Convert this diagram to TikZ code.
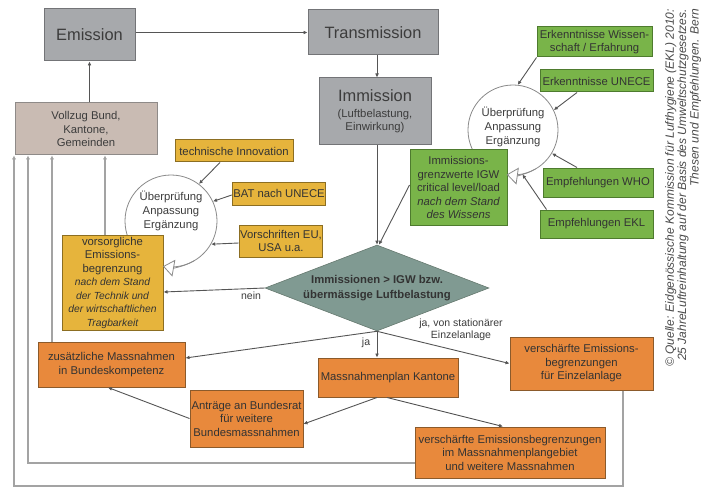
\documentclass[tikz,border=0pt]{standalone}
\usepackage{fontspec}
\setmainfont{Liberation Sans}
\usetikzlibrary{arrows.meta,shapes.geometric,calc}
\definecolor{gfill}{HTML}{A7A9AC}
\definecolor{gdraw}{HTML}{737477}
\definecolor{gtext}{HTML}{3C3C3C}
\definecolor{vfill}{HTML}{C9BBB3}
\definecolor{vdraw}{HTML}{8E8A88}
\definecolor{yfill}{HTML}{E6B43C}
\definecolor{ydraw}{HTML}{8C6E22}
\definecolor{grfill}{HTML}{79B449}
\definecolor{grdraw}{HTML}{4E7B2E}
\definecolor{ofill}{HTML}{E8893C}
\definecolor{odraw}{HTML}{8B5A2B}
\definecolor{dfill}{HTML}{809A92}
\definecolor{ddraw}{HTML}{66796F}
\definecolor{lc}{HTML}{555555}
\definecolor{fbc}{HTML}{A3A3A3}
\definecolor{circc}{HTML}{8A8A8A}
\definecolor{txt}{HTML}{333333}
\definecolor{captc}{HTML}{4A4A4A}
\begin{document}
\begin{tikzpicture}[x=1pt,y=1pt,
  box/.style={draw, line width=1pt, inner sep=1pt, align=center, text=txt,
    font=\fontsize{11.3}{13.5}\selectfont},
  graybox/.style={box, fill=gfill, draw=gdraw, text=gtext},
  vbox/.style={box, fill=vfill, draw=vdraw, text=gtext},
  ybox/.style={box, fill=yfill, draw=ydraw},
  grbox/.style={box, fill=grfill, draw=grdraw},
  obox/.style={box, fill=ofill, draw=odraw},
  wh/.style 2 args={minimum width=#1, minimum height=#2},
  ring/.style={circle, draw=circc, line width=0.8pt, fill=white, inner sep=0pt},
  ringtext/.style={align=center, text=gtext, font=\fontsize{11.3}{14}\selectfont, inner sep=0pt},
  arr/.style={draw=lc, line width=0.9pt, -{Latex[length=4pt,width=3.8pt]}},
  fb/.style={draw=fbc, line width=1.6pt, -{Latex[length=4pt,width=4.5pt]}},
  opentri/.style={draw=circc, line width=0.8pt, -{Triangle[open,length=11pt,width=17pt,fill=white]}},
  lab/.style={text=gtext, align=center, font=\fontsize{10.5}{12.5}\selectfont, inner sep=0pt}
]
\useasboundingbox (0,0) rectangle (703,-489);

% review circles (drawn under boxes)
\node[ring, minimum size=92pt] (circL) at (171,-221) {};
\node[ringtext] (circLt) at (171,-211) {Überprüfung\\Anpassung\\Ergänzung};
\node[ring, minimum size=90pt] (circR) at (513,-130) {};
\node[ringtext] (circRt) at (513,-127) {Überprüfung\\Anpassung\\Ergänzung};

% top row
\node[graybox, wh={91pt}{52pt}, font=\fontsize{16.4}{18}\selectfont] (emis) at (89.5,-35) {Emission};
\node[graybox, wh={130pt}{45pt}, font=\fontsize{16.4}{18}\selectfont] (trans) at (373,-32.5) {Transmission};
\node[graybox, wh={112pt}{67pt}] (immis) at (375,-111.5) {{\fontsize{16.4}{18}\selectfont Immission}\\[2pt](Luftbelastung,\\Einwirkung)};
\node[vbox, wh={142pt}{52pt}] (vollzug) at (86,-129) {Vollzug Bund,\\Kantone,\\Gemeinden};

% yellow
\node[ybox, wh={118pt}{22pt}] (techinn) at (234,-151) {technische Innovation};
\node[ybox, wh={86pt}{23pt}] (bat) at (279,-193.5) {BAT nach UNECE};
\node[ybox, wh={82pt}{32pt}] (vorschr) at (281,-241) {Vorschriften EU,\\USA u.a.};
\node[ybox, wh={101pt}{95pt}] (vorsorg) at (112.5,-282.5) {vorsorgliche\\Emissions-\\begrenzung\\{\itshape\fontsize{10.3}{13.5}\selectfont nach dem Stand}\\{\itshape\fontsize{10.3}{13.5}\selectfont der Technik und}\\{\itshape\fontsize{10.3}{13.5}\selectfont der wirtschaftlichen}\\{\itshape\fontsize{10.3}{13.5}\selectfont Tragbarkeit}};

% green
\node[grbox, wh={97pt}{75pt}] (gw) at (458.5,-187.5) {Immissions-\\grenzwerte IGW\\critical level/load\\{\itshape nach dem Stand}\\{\itshape des Wissens}};
\node[grbox, wh={115pt}{30pt}] (ew) at (594.5,-42) {Erkenntnisse Wissen-\\schaft / Erfahrung};
\node[grbox, wh={113pt}{22pt}] (eu) at (596.5,-81) {Erkenntnisse UNECE};
\node[grbox, wh={110pt}{29pt}] (who) at (598,-182.5) {Empfehlungen WHO};
\node[grbox, wh={113pt}{28pt}] (ekl) at (596.5,-224) {Empfehlungen EKL};

% decision
\node[diamond, shape aspect=2.6, draw=ddraw, line width=0.6pt, fill=dfill, minimum width=224pt, minimum height=86pt, inner sep=0pt, align=center, text=txt, font=\bfseries\fontsize{11.3}{15}\selectfont] (dia) at (377,-288) {Immissionen > IGW bzw.\\übermässige Luftbelastung};

% orange
\node[obox, wh={147pt}{45pt}] (zus) at (111.5,-364.5) {zusätzliche Massnahmen\\in Bundeskompetenz};
\node[obox, wh={140pt}{39pt}] (mpk) at (388,-377.5) {Massnahmenplan Kantone};
\node[obox, wh={143pt}{53pt}] (vei) at (581.5,-363.5) {verschärfte Emissions-\\begrenzungen\\für Einzelanlage};
\node[obox, wh={113pt}{57pt}] (ant) at (246.5,-418.5) {Anträge an Bundesrat\\für weitere\\Bundesmassnahmen};
\node[obox, wh={190pt}{51pt}] (vmp) at (510,-452.5) {verschärfte Emissionsbegrenzungen\\im Massnahmenplangebiet\\und weitere Massnahmen};

% open-triangle loop arrows of the review circles
\draw[opentri] ($(circL.center)+(-60:46pt)$) arc[start angle=-60,end angle=-100,radius=46pt];
\draw[opentri] ($(circR.center)+(-60:45pt)$) arc[start angle=-60,end angle=-98,radius=45pt];

% main chain
\draw[arr] (emis.east |- trans.west) -- (trans.west);
\draw[arr] (dia.north |- trans.south) -- (dia.north |- immis.north);
\draw[arr] (emis.south |- vollzug.north) -- (emis.south);
\draw[arr] (dia.north |- immis.south) -- (dia.north);
\draw[arr] ([yshift=2.5pt]gw.west) -- ([xshift=2pt]dia.north);

% inputs to circles
\draw[arr] ([xshift=-14pt]techinn.south) -- (circL.53);
\draw[arr] ([yshift=-1.5pt]bat.west) -- (circL.25);
\draw[arr] ([yshift=-2pt]vorschr.west) -- (circL.-30);
\draw[arr] (ew.south west) -- (circR.84);
\draw[arr] ([xshift=-19.5pt]eu.south) -- (circR.26);
\draw[arr] ([xshift=-21pt]who.north) -- (circR.-31);
\draw[arr] ([xshift=7pt]ekl.north west) -- (circR.-78);

% decision outputs
\draw[arr] (dia.west) -- ([yshift=-9.5pt]vorsorg.east);
\draw[arr] (dia.south) -- ([yshift=6.5pt]zus.east);
\draw[arr] (dia.south) -- (dia.south |- mpk.north);
\draw[arr] (dia.south) -- (vei.west);
\node[lab] (nein) at (251,-296) {nein};
\node[lab] (ja) at (366,-343) {ja};
\node[lab] (jast) at (461,-330) {ja, von stationärer\\Einzelanlage};

% Massnahmenplan outputs
\draw[arr] ([xshift=-11pt]mpk.south) -- ([yshift=-5.5pt]ant.east);
\draw[arr] ([xshift=-1pt]mpk.south) -- ([xshift=-7pt]vmp.north);
\draw[arr] (ant.west) -- ([xshift=-3.5pt]zus.south);

% feedback lines to Vollzug
\coordinate (f1) at (14,-486);
\coordinate (f2) at (28,-463);
\coordinate (f3) at (52,0);
\coordinate (f4) at (105,0);
\coordinate (c1) at (623,-486);
\draw[fb] (f4 |- vorsorg.north) -- (f4 |- vollzug.south);
\draw[fb] (f3 |- zus.north) -- (f3 |- vollzug.south);
\draw[fb] (vmp.west |- f2) -- (f2) -- (f2 |- vollzug.south);
\draw[fb] (c1 |- vei.south) -- (c1) -- (f1) -- (f1 |- vollzug.south);

% source caption
\node[rotate=90, anchor=north east, align=right, inner sep=0pt, text=captc,
  font=\itshape\fontsize{12}{12.3}\selectfont] (cap) at (665,-9)
  {© Quelle: Eidgenössische Kommission für Lufthygiene (EKL) 2010:\\25 JahreLuftreinhaltung auf der Basis des Umweltschutzgesetzes.\\Thesen und Empfehlungen. Bern};
\end{tikzpicture}
\end{document}
